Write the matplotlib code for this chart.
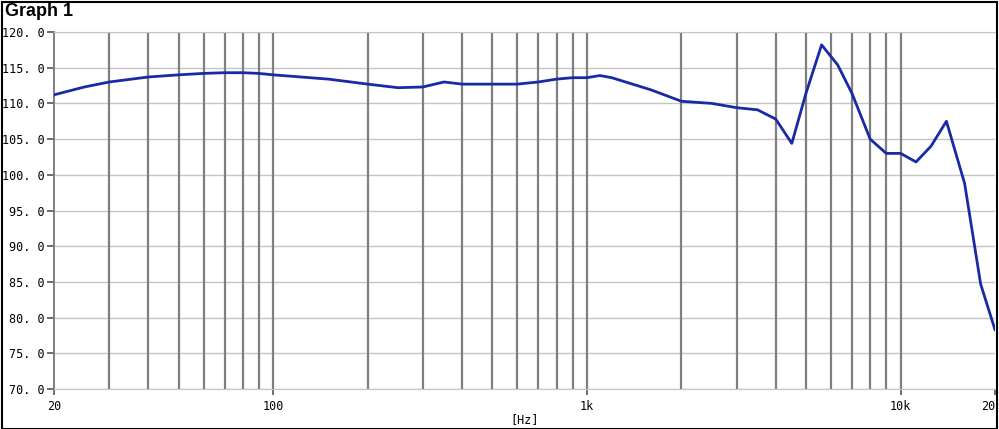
import matplotlib
matplotlib.use("Agg")
import matplotlib.pyplot as plt
from matplotlib.patches import Rectangle

# frequency response
freq = [20, 25, 30, 40, 50, 60, 70, 80, 90, 100, 150, 200, 250, 300, 350, 400,
        500, 600, 700, 800, 900, 1000, 1100, 1200, 1600, 2000, 2500, 3000, 3500,
        4000, 4500, 5000, 5600, 6300, 7000, 8000, 9000, 10000, 11200, 12500,
        14000, 16000, 18000, 20000]
spl = [111.2, 112.3, 113.0, 113.7, 114.0, 114.2, 114.3, 114.3, 114.2, 114.0,
       113.4, 112.7, 112.2, 112.3, 113.0, 112.7, 112.7, 112.7, 113.0, 113.4,
       113.6, 113.6, 113.9, 113.6, 111.9, 110.3, 110.0, 109.4, 109.1, 107.8,
       104.4, 111.5, 118.2, 115.4, 111.4, 105.0, 103.0, 103.0, 101.8, 104.0,
       107.5, 98.8, 84.7, 78.3]

y_ticks = [70, 75, 80, 85, 90, 95, 100, 105, 110, 115, 120]
y_labels = ["%d. %d" % (v, 0) for v in y_ticks]
x_ticks = [20, 100, 1000, 10000, 20000]
x_labels = ["20", "100", "1k", "10k", "20"]
grid_freqs = [30, 40, 50, 60, 70, 80, 90, 100,
              200, 300, 400, 500, 600, 700, 800, 900, 1000,
              2000, 3000, 4000, 5000, 6000, 7000, 8000, 9000, 10000]

W, H = 999, 429
fig = plt.figure(figsize=(W / 100, H / 100), dpi=100)
ax = fig.add_axes([54 / W, 1 - 389 / H, (995 - 54) / W, (389 - 32) / H])

ax.set_xscale("log")
ax.set_xlim(20, 20000)
ax.set_ylim(70, 120)

for y in y_ticks:
    ax.axhline(y, color="#c4c4c4", lw=1.0, zorder=1)
for f in grid_freqs:
    ax.axvline(f, color="#7f7f7f", lw=1.6, zorder=2)

ax.plot(freq, spl, color="#1a2aa6", lw=2.0, zorder=3)

ax.set_yticks(y_ticks)
ax.set_yticklabels(y_labels, family="DejaVu Sans Mono", fontsize=8.5)
ax.set_xticks(x_ticks)
ax.set_xticklabels(x_labels, family="DejaVu Sans Mono", fontsize=8.5)
ax.minorticks_off()
ax.tick_params(axis="y", length=5, width=1.2, color="#555555", pad=2)
ax.tick_params(axis="x", length=4, width=1.2, color="#555555", pad=4)

for s in ["top", "bottom"]:
    ax.spines[s].set_color("#c4c4c4")
ax.spines["left"].set_color("#7f7f7f")
ax.spines["left"].set_linewidth(1.4)
ax.spines["right"].set_visible(False)

# last label ("20", of 20k) sits against the right frame in the reference
ax.get_xticklabels()[-1].set_horizontalalignment("right")

fig.text(525 / W, 1 - 420 / H, "[Hz]", family="DejaVu Sans Mono",
         fontsize=8.5, ha="center", va="center")

fig.text(5 / W, 1 - 11 / H, "Graph 1", family="Liberation Sans",
         fontweight="bold", fontsize=13, va="center", ha="left")

fig.patches.append(Rectangle((2 / W, 0.5 / H), 995 / W, (H - 2) / H,
                             transform=fig.transFigure, fill=False,
                             edgecolor="black", lw=1.5))

fig.savefig("out.png", dpi=100)
